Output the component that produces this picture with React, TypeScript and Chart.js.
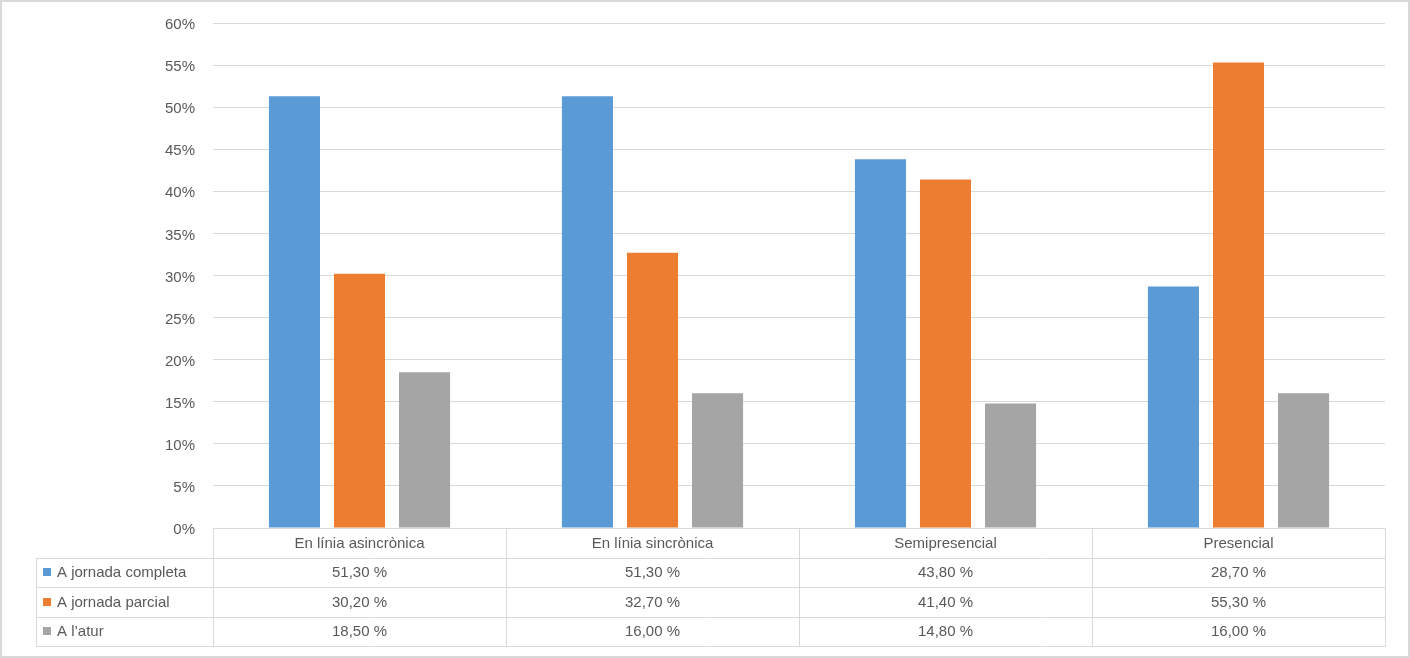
import { useEffect, useRef } from 'react';
import { Chart, registerables } from 'chart.js';

Chart.register(...registerables);

const categories = ['En línia asincrònica', 'En línia sincrònica', 'Semipresencial', 'Presencial'];
const seriesNames = ['A jornada completa', 'A jornada parcial', 'A l’atur'];
const completa = [51.3, 51.3, 43.8, 28.7];
const parcial = [30.2, 32.7, 41.4, 55.3];
const atur = [18.5, 16.0, 14.8, 16.0];
const colors = ['#5B9BD5', '#ED7D31', '#A5A5A5'];

const W = 1410;
const H = 658;
const FONT = "'Liberation Sans', Arial, sans-serif";
const TEXT = '#595959';
const LINE = '#d9d9d9';

const fmt = (v: number) => v.toFixed(2).replace('.', ',') + ' %';

// data table under the plot + outer frame, like Excel's chart data table
const tablePlugin = {
  id: 'dataTable',
  afterDraw(chart: Chart) {
    const { ctx, chartArea } = chart;
    const x = chart.scales.x;
    const left = chartArea.left;
    const right = chartArea.right;
    const top = chartArea.bottom;
    const rowH = 29.5;
    const legLeft = 36;
    const step = (right - left) / categories.length;
    const rows = [completa, parcial, atur];

    ctx.save();
    ctx.strokeStyle = LINE;
    ctx.lineWidth = 1;
    ctx.beginPath();
    // horizontal lines
    ctx.moveTo(left, Math.round(top) + 0.5);
    ctx.lineTo(right, Math.round(top) + 0.5);
    for (let r = 1; r <= 4; r++) {
      const y = Math.round(top + r * rowH) + 0.5;
      ctx.moveTo(legLeft, y);
      ctx.lineTo(right, y);
    }
    // vertical lines
    const yEnd = Math.round(top + 4 * rowH) + 0.5;
    for (let c = 0; c <= categories.length; c++) {
      const vx = Math.round(left + c * step) + 0.5;
      ctx.moveTo(vx, Math.round(top) + 0.5);
      ctx.lineTo(vx, yEnd);
    }
    ctx.moveTo(legLeft + 0.5, Math.round(top + rowH) + 0.5);
    ctx.lineTo(legLeft + 0.5, yEnd);
    ctx.stroke();

    ctx.font = `15px ${FONT}`;
    ctx.fillStyle = TEXT;
    ctx.textBaseline = 'middle';
    ctx.textAlign = 'center';
    categories.forEach((c, i) => {
      ctx.fillText(c, x.getPixelForValue(i), top + rowH / 2 + 1);
    });
    rows.forEach((vals, r) => {
      const cy = top + (r + 1) * rowH + rowH / 2 + 1;
      vals.forEach((v, i) => {
        ctx.fillStyle = TEXT;
        ctx.textAlign = 'center';
        ctx.fillText(fmt(v), x.getPixelForValue(i), cy);
      });
      ctx.fillStyle = colors[r];
      ctx.fillRect(43, Math.round(cy - 5), 8, 8);
      ctx.fillStyle = TEXT;
      ctx.textAlign = 'left';
      ctx.fillText(seriesNames[r], 57, cy);
    });

    // chart frame
    ctx.strokeStyle = LINE;
    ctx.lineWidth = 2;
    ctx.strokeRect(1, 1, W - 2, H - 2);
    ctx.restore();
  },
};

export default function App() {
  const ref = useRef<HTMLCanvasElement>(null);

  useEffect(() => {
    document.body.style.margin = '0';
    if (!ref.current) return;
    const chart = new Chart(ref.current, {
      type: 'bar',
      data: {
        labels: categories,
        datasets: [completa, parcial, atur].map((d, i) => ({
          label: seriesNames[i],
          data: d,
          backgroundColor: colors[i],
          categoryPercentage: 0.666,
          barPercentage: 0.785,
        })),
      },
      options: {
        responsive: false,
        animation: false,
        devicePixelRatio: 1,
        layout: { padding: { left: 0, right: 25, top: 23, bottom: 130 } },
        plugins: { legend: { display: false }, tooltip: { enabled: false } },
        scales: {
          x: { display: false },
          y: {
            min: 0,
            max: 60,
            afterFit: (s: any) => { s.width = 213; },
            border: { display: false },
            grid: { color: LINE, drawTicks: false },
            ticks: {
              stepSize: 5,
              padding: 18,
              labelOffset: 2,
              color: TEXT,
              font: { family: FONT, size: 15, lineHeight: 0.6 },
              callback: (v: any) => v + '%',
            },
          },
        },
      },
      plugins: [tablePlugin],
    });
    return () => { chart.destroy(); };
  }, []);

  return (
    <div style={{ width: W, height: H, background: '#fff' }}>
      <canvas ref={ref} width={W} height={H} style={{ display: 'block' }} />
    </div>
  );
}
